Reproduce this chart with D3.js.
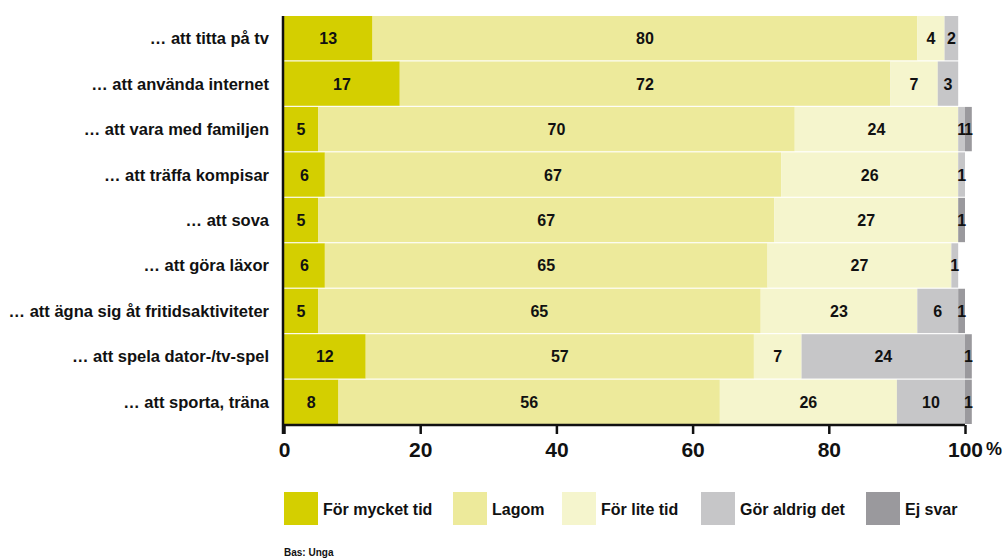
<!DOCTYPE html>
<html lang="sv">
<head>
<meta charset="utf-8">
<title></title>
<script src="https://d3js.org/d3.v7.min.js"></script>
<style>
  body { margin: 0; background: #fff; }
  .cat { font-family: "Liberation Sans", Arial, sans-serif; font-weight: bold; font-size: 16.5px; fill: #111; }
  .val { font-family: "Liberation Sans", Arial, sans-serif; font-weight: bold; font-size: 16px; fill: #111; }
  .tick text { font-family: "Liberation Sans", Arial, sans-serif; font-weight: bold; font-size: 21px; fill: #111; }
  .leg { font-family: "Liberation Sans", Arial, sans-serif; font-weight: bold; font-size: 16px; fill: #111; }
  .bas { font-family: "Liberation Sans", Arial, sans-serif; font-weight: bold; font-size: 10px; fill: #111; }
</style>
</head>
<body>
<svg width="1005" height="560"></svg>
<script>
var categories = [
  "… att titta på tv",
  "… att använda internet",
  "… att vara med familjen",
  "… att träffa kompisar",
  "… att sova",
  "… att göra läxor",
  "… att ägna sig åt fritidsaktiviteter",
  "… att spela dator-/tv-spel",
  "… att sporta, träna"
];
var seriesNames = ["För mycket tid", "Lagom", "För lite tid", "Gör aldrig det", "Ej svar"];
var forMycket = [13, 17, 5, 6, 5, 6, 5, 12, 8];
var lagom     = [80, 72, 70, 67, 67, 65, 65, 57, 56];
var forLite   = [4, 7, 24, 26, 27, 27, 23, 7, 26];
var gorAldrig = [2, 3, 1, 1, 0, 1, 6, 24, 10];
var ejSvar    = [0, 0, 1, 0, 1, 0, 1, 1, 1];
var tickValues = [0, 20, 40, 60, 80, 100];
var colors = ["#d4cf00", "#edea9b", "#f5f5cd", "#c6c6c8", "#9a999d"];

var seriesValues = [forMycket, lagom, forLite, gorAldrig, ejSvar];
var table = categories.map(function(c, i) {
  var row = {cat: c};
  seriesNames.forEach(function(s, j) { row[s] = seriesValues[j][i]; });
  return row;
});

var svg = d3.select("svg");
var x = d3.scaleLinear().domain([0, 100]).range([284, 965]);
var y = d3.scaleBand().domain(categories).range([16, 424]).paddingInner(0.025).paddingOuter(0);
var color = d3.scaleOrdinal().domain(seriesNames).range(colors);

var stacked = d3.stack().keys(seriesNames)(table);

var layers = svg.append("g").selectAll("g")
  .data(stacked)
  .join("g")
  .attr("fill", d => color(d.key));

layers.selectAll("rect")
  .data(d => d)
  .join("rect")
  .attr("x", d => x(d[0]))
  .attr("y", d => y(d.data.cat))
  .attr("width", d => x(d[1]) - x(d[0]))
  .attr("height", y.bandwidth());

// value labels
layers.selectAll("text")
  .data(d => d.filter(p => p[1] - p[0] > 0))
  .join("text")
  .attr("class", "val")
  .attr("text-anchor", "middle")
  .attr("x", d => (x(d[0]) + x(d[1])) / 2)
  .attr("y", d => y(d.data.cat) + y.bandwidth() / 2 + 6)
  .text(d => d[1] - d[0]);

// category labels
svg.append("g").selectAll("text")
  .data(categories)
  .join("text")
  .attr("class", "cat")
  .attr("text-anchor", "end")
  .attr("x", 269)
  .attr("y", d => y(d) + y.bandwidth() / 2 + 6)
  .text(d => d);

// x axis
var xAxis = svg.append("g")
  .attr("transform", "translate(0,425)")
  .call(d3.axisBottom(x).tickValues(tickValues).tickSize(9).tickPadding(8).tickFormat(d => d));
xAxis.select(".domain").attr("stroke", "#111").attr("stroke-width", 2.5).attr("d", "M283,0H965");
xAxis.selectAll(".tick line").attr("stroke", "#111").attr("stroke-width", 2.5);
xAxis.selectAll(".tick text").attr("dy", "0.71em");
xAxis.append("text")
  .attr("x", 986)
  .attr("y", 30)
  .attr("text-anchor", "start")
  .attr("fill", "#111")
  .style("font-family", "'Liberation Sans', Arial, sans-serif")
  .style("font-weight", "bold")
  .style("font-size", "18px")
  .text("%");

// y axis line
svg.append("line")
  .attr("x1", 283).attr("x2", 283)
  .attr("y1", 16).attr("y2", 434)
  .attr("stroke", "#111").attr("stroke-width", 2.5);

// legend
var legX = [284, 453, 562, 701, 866];
var leg = svg.append("g").selectAll("g")
  .data(seriesNames)
  .join("g")
  .attr("transform", (d, i) => "translate(" + legX[i] + ",492)");
leg.append("rect")
  .attr("width", 34).attr("height", 33)
  .attr("fill", d => color(d));
leg.append("text")
  .attr("class", "leg")
  .attr("x", 39)
  .attr("y", 23)
  .text(d => d);

svg.append("text")
  .attr("class", "bas")
  .attr("x", 284)
  .attr("y", 556)
  .text("Bas: Unga");
</script>
</body>
</html>
